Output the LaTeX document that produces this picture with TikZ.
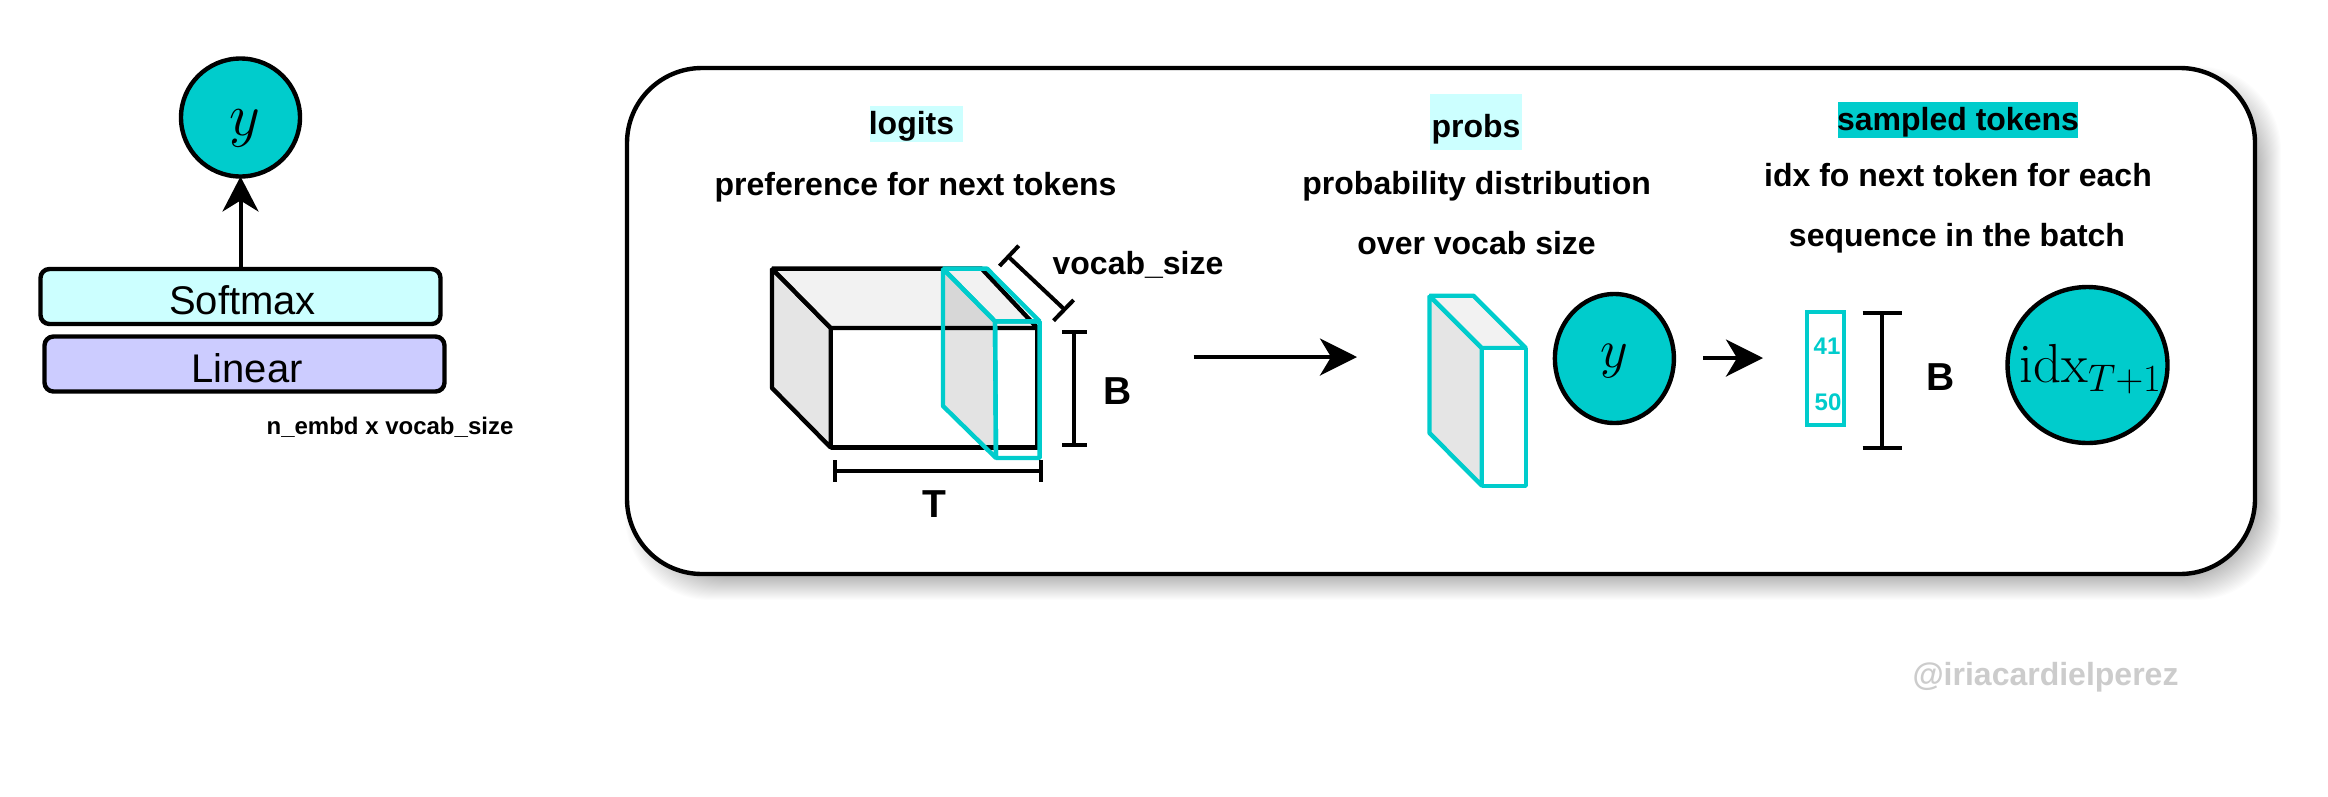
\documentclass[tikz,border=0pt]{standalone}
\usepackage{fix-cm}
\usepackage[no-math]{fontspec}
\setmainfont{Liberation Sans}
\usetikzlibrary{arrows.meta,shapes.geometric}
\definecolor{tealc}{HTML}{00CCCC}
\definecolor{softc}{HTML}{CCFFFF}
\definecolor{linc}{HTML}{CCCCFF}
\newcommand{\fsz}[1]{\fontsize{#1}{#1}\selectfont}
\tikzset{
  every node/.style={inner sep=0pt,outer sep=0pt},
  lw/.style={line width=4.4pt},
  layerbox/.style={draw=black,lw,rounded corners=9pt,minimum width=400pt,minimum height=55pt,font=\fsz{40}},
  tealball/.style={ellipse,draw=black,lw,fill=tealc},
  txt/.style={font=\fsz{32}\bfseries},
  big/.style={font=\fsz{39}\bfseries},
  cubeline/.style={draw=black,lw,line join=bevel},
  cyanline/.style={draw=tealc,lw,line join=bevel},
  dim/.style={draw=black,line width=4pt},
  flow/.style={draw=black,line width=4pt,-{Stealth[length=37pt,width=37pt,inset=11pt]}},
}
\begin{document}
\begin{tikzpicture}[x=1pt,y=-1pt]
\useasboundingbox (0,0) rectangle (2328,796);
\fill[white] (0,0) rectangle (2328,796);
% left column
\node[tealball,minimum width=119pt,minimum height=118pt] (ya) at (240.5,117.5) {};
\node[font=\fsz{60}] (yatxt) at (244.5,128) {$y$};
\node[layerbox,fill=softc] (soft) at (240.5,296.5) {};
\node[font=\fsz{40}] (softtxt) at (242.5,300) {Softmax};
\node[layerbox,fill=linc] (lin) at (244.5,364) {};
\node[font=\fsz{40}] (lintxt) at (247,368) {Linear};
\draw[flow,-{Stealth[length=35pt,width=36pt,inset=11pt]}] (soft.north) -- (ya.south);
\node[font=\fsz{24}\bfseries] (dims) at (390,427) {n\_embd x vocab\_size};
% panel shadow
\foreach \i in {0,...,27}{
  \fill[black,opacity=.013,rounded corners=85pt]
    ({627-14+\i+12},{68-14+\i+12}) rectangle ({2255+14-\i+12},{574+14-\i+12});
}
\draw[draw=black,lw,fill=white,rounded corners=75pt] (627,68) rectangle (2255,574);
% logits
\node[fill=softc,minimum width=93pt,minimum height=36pt] (logits) at (916,124) {};
\node[txt] (logitstxt) at (911.5,126) {logits};
\node[txt] (pref) at (915.5,187) {preference for next tokens};
% cube
\coordinate (bl) at (772,268.6);
\coordinate (br) at (981.6,268.6);
\coordinate (fl) at (830.7,328);
\coordinate (fr) at (1037.4,328);
\coordinate (gl) at (830.7,447.5);
\coordinate (gr) at (1037.4,447.5);
\coordinate (hl) at (772,388);
\filldraw[cubeline,fill=black!10] (bl) -- (fl) -- (gl) -- (hl) -- cycle;
\filldraw[cubeline,fill=black!5] (bl) -- (br) -- (fr) -- (fl) -- cycle;
\draw[cubeline] (fl) rectangle (gr);
% slice
\coordinate (sa) at (943,268.6);
\coordinate (sb) at (987,268.6);
\coordinate (sc) at (995,321.4);
\coordinate (sd) at (1039.6,321.4);
\coordinate (se) at (996,458);
\coordinate (sf) at (1039.6,458);
\coordinate (sg) at (943,406);
\fill[black,opacity=.11] (sa) -- (sc) -- (se) -- (sg) -- cycle;
\draw[cyanline] (sa) -- (sc) -- (se) -- (sg) -- cycle;
\draw[cyanline] (sa) -- (sb) -- (sd) -- (sc) -- cycle;
\draw[cyanline] (sc) -- (sd) -- (sf) -- (se) -- cycle;
% vocab dim
\coordinate (va) at (1009.7,257.9);
\coordinate (vb) at (1065,310);
\coordinate (va1) at (1018.7,245.7);
\coordinate (va2) at (999.5,266);
\coordinate (vb1) at (1073.6,300);
\coordinate (vb2) at (1053.5,320.7);
\draw[dim] (va) -- (vb);
\draw[dim] (va1) -- (va2);
\draw[dim] (vb1) -- (vb2);
\node[txt] (vocab) at (1138,265) {vocab\_size};
% B dim
\coordinate (ba) at (1074,332);
\coordinate (bb) at (1074,444.6);
\coordinate (ba1) at (1062,332);
\coordinate (ba2) at (1086.5,332);
\coordinate (bb1) at (1062,444.6);
\coordinate (bb2) at (1086.5,444.6);
\draw[dim] (ba) -- (bb);
\draw[dim] (ba1) -- (ba2);
\draw[dim] (bb1) -- (bb2);
\node[big] (blabel) at (1118,391) {B};
% T dim
\coordinate (ta) at (835,471.4);
\coordinate (tb) at (1041.4,471.4);
\coordinate (ta1) at (835,460);
\coordinate (ta2) at (835,482);
\coordinate (tb1) at (1041.4,460);
\coordinate (tb2) at (1041.4,482);
\draw[dim] (ta) -- (tb);
\draw[dim] (ta1) -- (ta2);
\draw[dim] (tb1) -- (tb2);
\node[big] (tlabel) at (934.7,504) {T};
% arrow 1
\coordinate (a1s) at (1193.6,357);
\coordinate (a1e) at (1357,357);
\draw[flow] (a1s) -- (a1e);
% probs
\node[fill=softc,minimum width=92pt,minimum height=56pt] (probs) at (1476,122) {};
\node[txt] (probstxt) at (1476,129) {probs};
\node[txt] (pd1) at (1476.6,186) {probability distribution};
\node[txt] (pd2) at (1476.6,243) {over vocab size};
% prism
\coordinate (pa) at (1429.5,295.7);
\coordinate (pb) at (1473.5,295.7);
\coordinate (pc) at (1481.8,348);
\coordinate (pd) at (1525.8,348);
\coordinate (pe) at (1481.8,485.7);
\coordinate (pf) at (1525.8,485.7);
\coordinate (pg) at (1429.5,433);
\filldraw[cyanline,fill=black!10] (pa) -- (pc) -- (pe) -- (pg) -- cycle;
\filldraw[cyanline,fill=black!5] (pa) -- (pb) -- (pd) -- (pc) -- cycle;
\filldraw[cyanline,fill=white] (pc) -- (pd) -- (pf) -- (pe) -- cycle;
% y ball
\node[tealball,minimum width=119pt,minimum height=129pt] (yb) at (1614.4,358.5) {};
\node[font=\fsz{54}] (ybtxt) at (1614.4,361.5) {$y$};
% arrow 2
\coordinate (a2s) at (1703,358);
\coordinate (a2e) at (1763,358);
\draw[flow] (a2s) -- (a2e);
% sampled
\node[fill=tealc,minimum width=240pt,minimum height=36pt] (sampled) at (1958,119.5) {};
\node[txt] (sampledtxt) at (1958,122) {sampled tokens};
\node[txt] (idx1) at (1958,175) {idx fo next token for each};
\node[txt] (idx2) at (1957,238) {sequence in the batch};
% tokens rect
\node[draw=tealc,lw,minimum width=37pt,minimum height=113pt] (tok) at (1825.4,368.5) {};
\node[font=\fsz{24}\bfseries,text=tealc] (t41) at (1827,346) {41};
\node[font=\fsz{24}\bfseries,text=tealc] (t50) at (1828,402) {50};
% B dim 2
\coordinate (ca) at (1882,312.5);
\coordinate (cb) at (1882,448);
\coordinate (ca1) at (1862.5,312.5);
\coordinate (ca2) at (1902,312.5);
\coordinate (cb1) at (1862.5,448);
\coordinate (cb2) at (1902,448);
\draw[dim] (ca) -- (cb);
\draw[dim] (ca1) -- (ca2);
\draw[dim] (cb1) -- (cb2);
\node[big] (blabel2) at (1941,377) {B};
% idx ball
\node[tealball,minimum width=160pt,minimum height=156pt] (idx) at (2087.5,365) {};
\node[font=\fsz{55}] (idxtxt) at (2090.5,369) {$\mathrm{idx}_{T+1}$};
% watermark
\node[font=\fsz{32}\bfseries,text=black!20] (mark) at (2045.5,677) {@iriacardielperez};
\end{tikzpicture}
\end{document}
